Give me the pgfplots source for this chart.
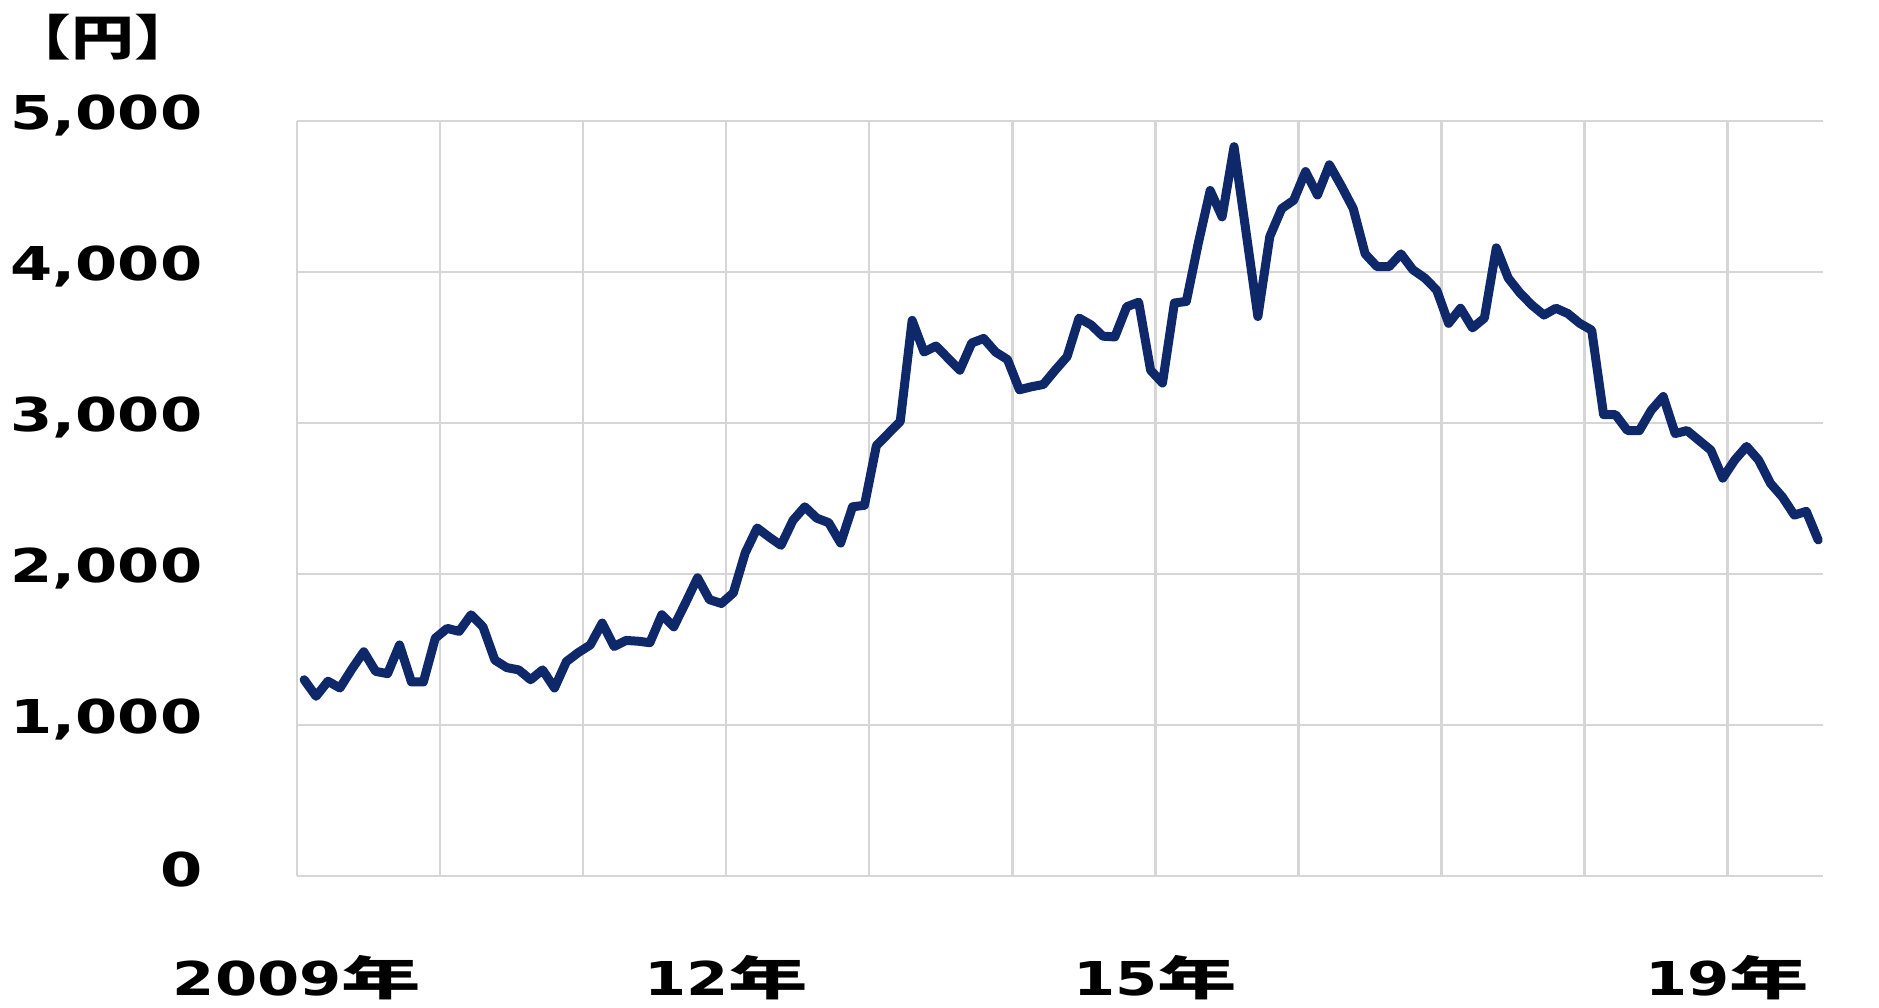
\documentclass[border=0pt]{standalone}
\usepackage{fontspec}
\usepackage{pgfplots}
\usepackage{pgfplotstable}
\pgfplotsset{compat=1.18}

\newfontfamily\lab{DejaVu Sans}[FakeStretch=1.3]
\newfontfamily\cjk{Noto Sans CJK JP}[FakeStretch=1.3]
\newfontfamily\cjkx{Noto Sans CJK JP}[FakeStretch=1.7]
\definecolor{navy}{RGB}{14,40,105}
\definecolor{gridgray}{RGB}{214,214,214}

% monthly price, i = months since Jan 2009
\pgfplotstableread{
i v
0 1300
1 1190
2 1290
3 1245
4 1370
5 1485
6 1355
7 1340
8 1530
9 1285
10 1285
11 1575
12 1640
13 1620
14 1730
15 1650
16 1430
17 1380
18 1365
19 1300
20 1365
21 1245
22 1420
23 1480
24 1530
25 1675
26 1520
27 1560
28 1555
29 1545
30 1730
31 1650
32 1810
33 1975
34 1830
35 1805
36 1875
37 2140
38 2305
39 2245
40 2190
41 2355
42 2445
43 2370
44 2340
45 2205
46 2445
47 2455
48 2850
49 2930
50 3010
51 3680
52 3470
53 3510
54 3430
55 3350
56 3530
57 3560
58 3470
59 3420
60 3220
61 3240
62 3255
63 3350
64 3440
65 3695
66 3650
67 3575
68 3570
69 3770
70 3800
71 3350
72 3265
73 3795
74 3805
75 4190
76 4540
77 4365
78 4830
79 4270
80 3705
81 4235
82 4420
83 4475
84 4665
85 4510
86 4710
87 4570
88 4420
89 4120
90 4035
91 4035
92 4120
93 4015
94 3960
95 3880
96 3660
97 3760
98 3630
99 3695
100 4160
101 3960
102 3860
103 3780
104 3715
105 3760
106 3725
107 3660
108 3615
109 3055
110 3055
111 2950
112 2950
113 3085
114 3175
115 2930
116 2950
117 2885
118 2820
119 2635
120 2755
121 2845
122 2755
123 2600
124 2510
125 2390
126 2415
127 2225
}\prices

\begin{document}
\begin{tikzpicture}
\path[use as bounding box] (-89.1pt,-39.3pt) rectangle (474.6pt,262.8pt);
\begin{axis}[
  at={(0,0)}, anchor=south west,
  scale only axis, width=457.8pt, height=226.5pt,
  xmin=2009, xmax=2019.667, ymin=0, ymax=5000,
  axis line style={draw=none},
  major tick length=0pt,
  grid=major, grid style={gridgray, line width=0.8pt},
  xtick={2009,...,2019},
  xticklabels={{2009{\cjkx 年}},{},{},{12{\cjkx 年}},{},{},{15{\cjkx 年}},{},{},{},{19{\cjkx 年}}},
  ytick={0,1000,...,5000},
  yticklabels={0,{1,000},{2,000},{3,000},{4,000},{5,000}},
  ticklabel style={font=\lab\bfseries\fontsize{14}{16}\selectfont, text=black},
  yticklabel style={anchor=east, inner sep=0pt, xshift=-28.2pt, yshift=1.8pt},
  xticklabel style={anchor=center, inner sep=0pt, yshift=-30.6pt},
  clip=false,
]
\addplot[navy, line width=2.7pt, line join=round, line cap=round, mark=none]
  table[x expr=2009.05+\thisrow{i}/12, y=v] {\prices};
\end{axis}
\node[font=\cjk\bfseries\fontsize{14.5}{16}\selectfont, inner sep=0pt] at (-58.2pt,251.7pt) {【円】};
\end{tikzpicture}
\end{document}
